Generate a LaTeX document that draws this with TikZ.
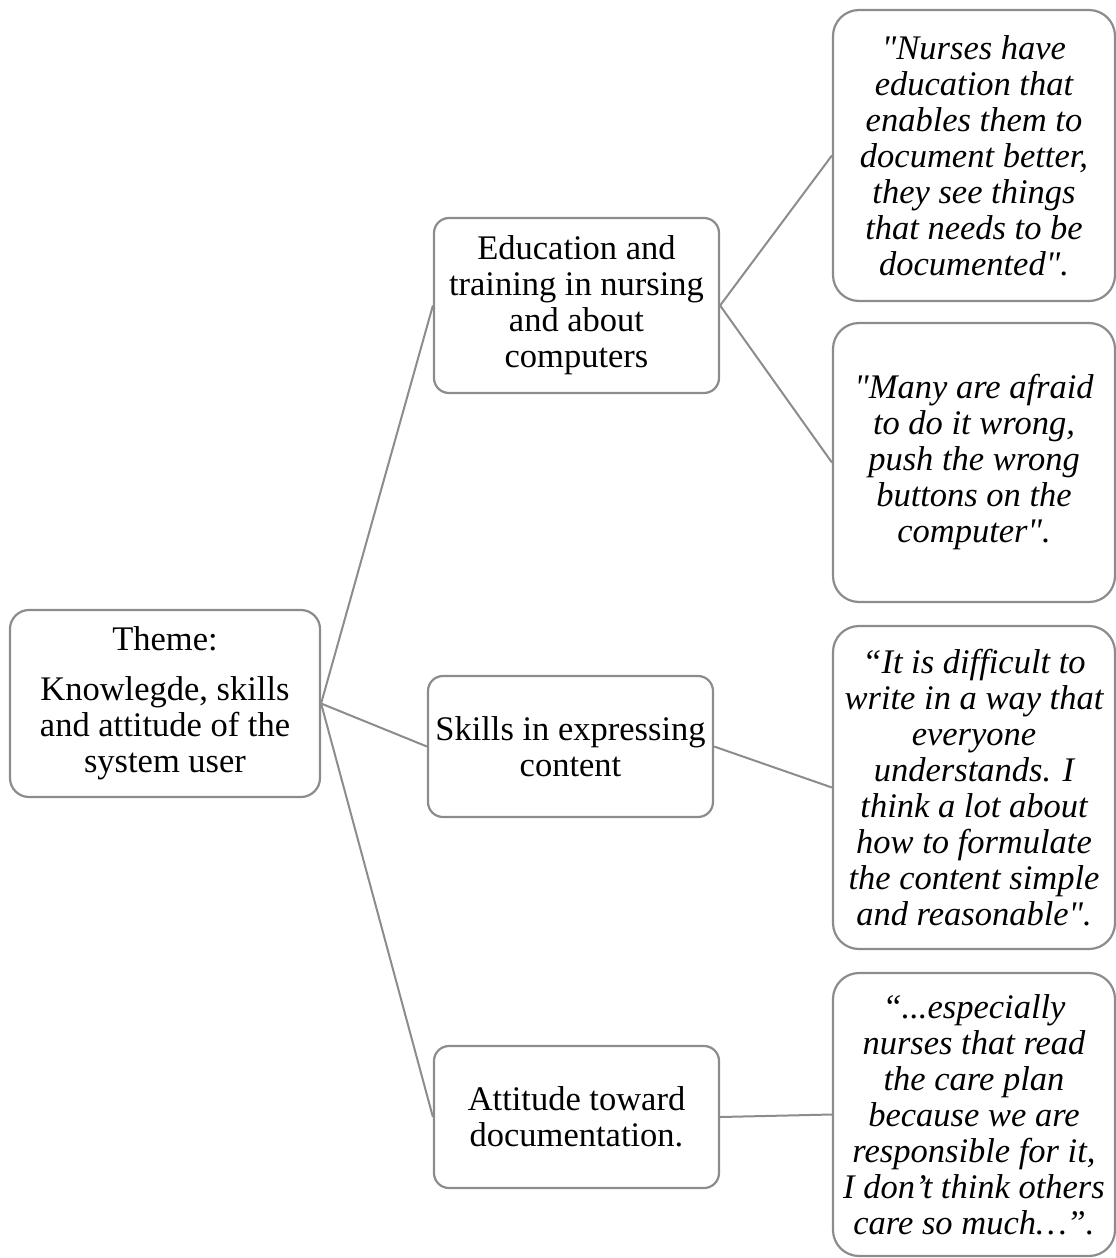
\documentclass[tikz,border=0pt]{standalone}
\usepackage{fontspec}
\setmainfont{Liberation Serif}[Ligatures=TeXOff]
\usepackage{xcolor}
\definecolor{boxgray}{HTML}{8C8C8C}

\begin{document}
\begin{tikzpicture}[x=1pt,y=-1pt]
\def\wdmid{285}
\def\wdquote{282}
\tikzset{base box/.style={
	draw=boxgray,
	line width=2.2pt,
	rectangle,
	align=center,
	inner sep=1pt,
	font=\fontsize{34.5}{36}\selectfont
},
theme box/.style={base box, rounded corners=19pt, minimum width=310pt},
mid box/.style={base box, rounded corners=15pt, minimum width=\wdmid pt},
quote box/.style={base box, rounded corners=26pt, minimum width=\wdquote pt,
	font=\fontsize{34.5}{36}\selectfont\itshape},
link/.style={draw=boxgray, line width=2pt}
}
\useasboundingbox (0,0) rectangle (1116,1258);
% theme
\node[theme box, minimum height=187pt] (theme) at (165,703.5)
	{Theme:\\[14pt]Knowlegde, skills\\and attitude of the\\system user};
% sub themes
\node[mid box, minimum height=175pt] (edu) at (576.5,305.5)
	{Education and\\training in nursing\\and about\\computers};
\node[mid box, minimum height=141pt] (skl) at (570.5,746.5)
	{Skills in expressing\\content};
\node[mid box, minimum height=142pt] (att) at (576.5,1117)
	{Attitude toward\\documentation.};
% quotes
\node[quote box, minimum height=291pt] (q1) at (974,155.5)
	{"Nurses have\\education that\\enables them to\\document better,\\they see things\\that needs to be\\documented".};
\node[quote box, minimum height=279pt] (q2) at (974,462.5)
	{"Many are afraid\\to do it wrong,\\push the wrong\\buttons on the\\computer".};
\node[quote box, minimum height=323pt] (q3) at (974,787.5)
	{“It is difficult to\\write in a way that\\everyone\\understands. I\\think a lot about\\how to formulate\\the content simple\\and reasonable".};
\node[quote box, minimum height=283pt] (q4) at (974,1114.5)
	{“...especially\\nurses that read\\the care plan\\because we are\\responsible for it,\\I don’t think others\\care so much…”.};
% connectors
\foreach \a/\b in {theme/edu,theme/skl,theme/att,edu/q1,edu/q2,skl/q3,att/q4}
{
	\draw[link] (\a.east) -- (\b.west);
}
\end{tikzpicture}
\end{document}
